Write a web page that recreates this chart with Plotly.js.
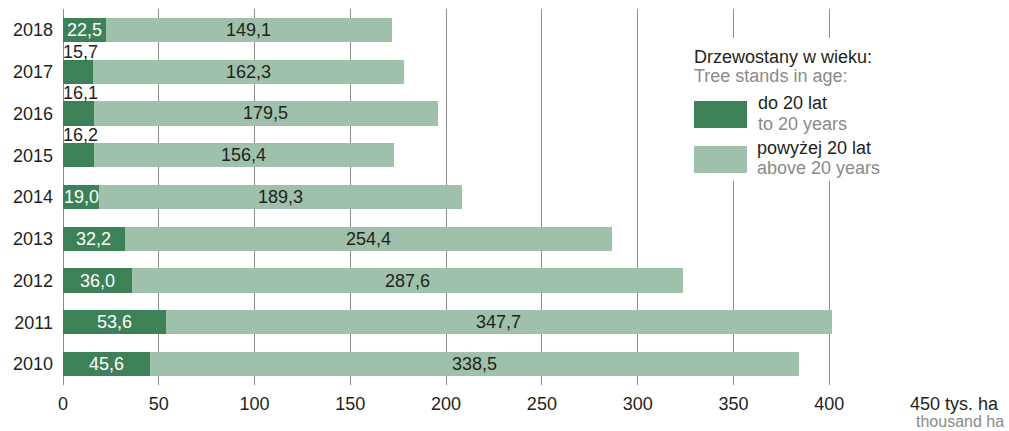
<!DOCTYPE html>
<html>
<head>
<meta charset="utf-8">
<script src="https://cdn.plot.ly/plotly-3.0.1.min.js"></script>
<style>html,body{margin:0;padding:0;background:#fff;}</style>
</head>
<body>
<div id="chart" style="width:1009px;height:431px;"></div>
<script>
// ---- data ----
const years = ['2010','2011','2012','2013','2014','2015','2016','2017','2018'];
const upTo20 = [45.6, 53.6, 36.0, 32.2, 19.0, 16.2, 16.1, 15.7, 22.5];
const above20 = [338.5, 347.7, 287.6, 254.4, 189.3, 156.4, 179.5, 162.3, 149.1];
const xTickVals = [0, 50, 100, 150, 200, 250, 300, 350, 400, 450];
const xTickText = ['0', '50', '100', '150', '200', '250', '300', '350', '400', '450'];
// years whose dark-segment label is placed above the bar
const labelAbove = ['2015', '2016', '2017'];

// ---- style ----
const DARK = '#3d8159';
const LIGHT = '#9fc1ab';
const TXT = '#231f20';
const GREY = '#8a8a8a';
const FONT = 'Liberation Sans, Arial, sans-serif';
const FS = 18;

const W = 1009, H = 431;
const M = {l: 63, r: 84, t: 9, b: 46};
const PW = W - M.l - M.r, PH = H - M.t - M.b;
const px = x => (x - M.l) / PW;
const py = y => (H - M.b - y) / PH;

const fmt = v => v.toFixed(1).replace('.', ',');

const traces = [
  {type: 'bar', orientation: 'h', y: years, x: upTo20, name: 'do 20 lat',
   marker: {color: DARK}, width: 0.58, hoverinfo: 'x+y'},
  {type: 'bar', orientation: 'h', y: years, x: above20, name: 'powyżej 20 lat',
   marker: {color: LIGHT}, width: 0.58, hoverinfo: 'x+y'}
];

const annotations = [];
years.forEach((yr, i) => {
  // category axis: use the category index as the position
  if (labelAbove.includes(yr)) {
    annotations.push({x: 0, y: i, xref: 'x', yref: 'y', text: fmt(upTo20[i]),
      showarrow: false, xanchor: 'left', yanchor: 'middle', yshift: 20, xshift: -2,
      font: {family: FONT, size: FS, color: TXT}});
  } else {
    annotations.push({x: upTo20[i] / 2, y: i, xref: 'x', yref: 'y', text: fmt(upTo20[i]),
      showarrow: false, xanchor: 'center', yanchor: 'middle',
      font: {family: FONT, size: FS, color: '#ffffff'}});
  }
  annotations.push({x: upTo20[i] + above20[i] / 2, y: i, xref: 'x', yref: 'y', text: fmt(above20[i]),
    showarrow: false, xanchor: 'center', yanchor: 'middle',
    font: {family: FONT, size: FS, color: TXT}});
});

// unit labels
annotations.push({x: 450, y: 0, xref: 'x', yref: 'paper', text: 'tys. ha', showarrow: false,
  xanchor: 'left', yanchor: 'middle', xshift: 18, yshift: -19,
  font: {family: FONT, size: FS, color: TXT}});
annotations.push({x: px(1005), y: py(421), xref: 'paper', yref: 'paper', text: 'thousand ha', showarrow: false,
  xanchor: 'right', yanchor: 'middle', borderpad: 0,
  font: {family: FONT, size: 16, color: GREY}});

// legend texts
const legTexts = [
  ['Drzewostany w wieku:', 692, 57, TXT],
  ['Tree stands in age:', 692, 76, GREY],
  ['do 20 lat', 756, 103, TXT],
  ['to 20 years', 756, 124, GREY],
  ['powyżej 20 lat', 755, 148, TXT],
  ['above 20 years', 755, 168, GREY]
];
legTexts.forEach(([t, x, y, c]) => {
  annotations.push({x: px(x), y: py(y), xref: 'paper', yref: 'paper', text: t, showarrow: false,
    xanchor: 'left', yanchor: 'middle', font: {family: FONT, size: FS, color: c}});
});

const shapes = [
  {type: 'rect', xref: 'paper', yref: 'paper', x0: px(680), x1: px(905), y0: py(181), y1: py(38),
   fillcolor: '#ffffff', line: {width: 0}, layer: 'above'},
  {type: 'rect', xref: 'paper', yref: 'paper', x0: px(694), x1: px(747), y0: py(128), y1: py(101),
   fillcolor: DARK, line: {width: 0}, layer: 'above'},
  {type: 'rect', xref: 'paper', yref: 'paper', x0: px(694), x1: px(747), y0: py(173), y1: py(146),
   fillcolor: LIGHT, line: {width: 0}, layer: 'above'}
];

const layout = {
  width: W, height: H,
  margin: M,
  paper_bgcolor: '#fff', plot_bgcolor: '#fff',
  barmode: 'stack',
  showlegend: false,
  font: {family: FONT, size: FS, color: TXT},
  xaxis: {range: [0, 450], tickvals: xTickVals, ticktext: xTickText,
    showgrid: true, gridcolor: '#8c8c8c', gridwidth: 1,
    zeroline: true, zerolinecolor: '#8c8c8c', zerolinewidth: 1,
    showline: false, ticks: '', ticklabelstandoff: 6,
    tickfont: {family: FONT, size: FS, color: TXT}, fixedrange: true},
  yaxis: {type: 'category', categoryorder: 'array', categoryarray: years,
    range: [-0.5, 8.5], showgrid: false, zeroline: false, showline: false,
    ticks: '', ticklabelstandoff: 9,
    tickfont: {family: FONT, size: FS, color: TXT}, fixedrange: true},
  annotations: annotations,
  shapes: shapes
};

Plotly.newPlot('chart', traces, layout, {displayModeBar: false, staticPlot: true});
</script>
</body>
</html>
